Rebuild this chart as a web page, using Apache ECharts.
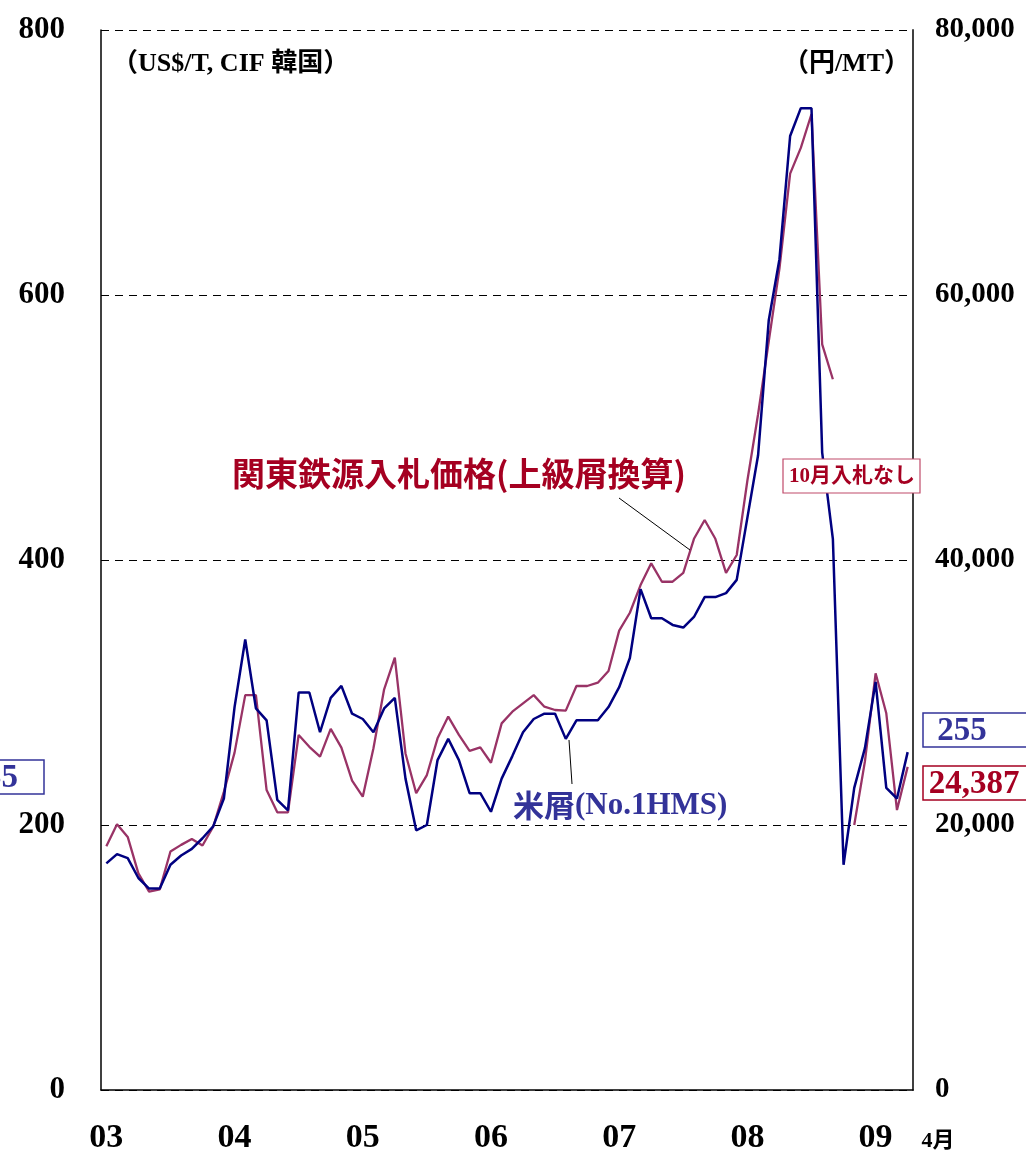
<!DOCTYPE html>
<html>
<head>
<meta charset="utf-8">
<script src="https://cdn.jsdelivr.net/npm/echarts@6/dist/echarts.min.js"></script>
<style>
  html, body { margin: 0; padding: 0; background: #fff; }
  #chart { width: 1026px; height: 1157px; }
</style>
</head>
<body>
<div id="chart"></div>
<script>
// monthly, Jan 2003 .. Apr 2009
const months = []
for (let y = 2003; y <= 2009; y++) {
  for (let m = 1; m <= 12; m++) {
    if (y === 2009 && m > 4) break
    months.push(y + '-' + (m < 10 ? '0' + m : m))
  }
}
const yearLabels = ['03', '04', '05', '06', '07', '08', '09']

// 米屑 No.1HMS, US$/T CIF 韓国
const usScrap = [
  171, 178, 175, 160, 152, 152, 170, 177, 182, 190, 199, 220,
  289, 340, 288, 279, 219, 211, 300, 300, 270, 296, 305, 284,
  280, 270, 288, 296, 235, 196, 200, 249, 265, 249, 224, 224,
  210, 235, 252, 270, 280, 284, 284, 265, 279, 279, 279, 289,
  304, 326, 378, 356, 356, 351, 349, 357, 372, 372, 375, 385,
  432, 479, 581, 627, 720, 741, 741, 481, 416, 170, 228, 258,
  308, 228, 220, 255
]

// 関東鉄源入札価格 (上級屑換算), 円/MT  (2008/10 no tender)
const kantoTender = [
  18400, 20050, 19100, 16350, 14970, 15140, 18000, 18500, 18950, 18450, 19870, 22500,
  25460, 29800, 29800, 22640, 20960, 20960, 26800, 25900, 25160, 27250, 25840, 23350,
  22140, 25790, 30240, 32630, 25400, 22400, 23770, 26540, 28180, 26800, 25600, 25860,
  24700, 27670, 28550, 29180, 29800, 28930, 28680, 28630, 30490, 30490, 30740, 31620,
  34670, 36020, 38110, 39750, 38360, 38360, 39030, 41600, 43020, 41600, 39030, 40380,
  46000, 51000, 56500, 62000, 69160, 71100, 73660, 56280, 53640, null, 20000, 24800,
  31450, 28430, 21130, 24387
]

const SERIF = '"Liberation Serif", "Noto Sans CJK JP", serif'
const GOTHIC = '"Noto Sans CJK JP", sans-serif'
const BLUE_TXT = '#333399'
const RED_TXT = '#a50021'

const chart = echarts.init(document.getElementById('chart'))

let option = {
  animation: false,
  backgroundColor: '#fff',
  grid: { left: 101, top: 30, width: 812, height: 1060 },
  xAxis: {
    type: 'category',
    data: months,
    boundaryGap: true,
    axisLine: { lineStyle: { color: '#000', width: 1.5 } },
    axisTick: { show: false },
    axisLabel: {
      interval: 0,
      margin: 31,
      fontFamily: SERIF,
      fontWeight: 'bold',
      fontSize: 34,
      color: '#000',
      formatter: (v, i) => (i % 12 === 0 ? yearLabels[i / 12] : '')
    },
    splitLine: { show: false }
  },
  yAxis: [
    {
      type: 'value',
      min: 0,
      max: 800,
      interval: 200,
      axisLine: { show: true, lineStyle: { color: '#000', width: 1.5 } },
      axisTick: { show: false },
      axisLabel: {
        margin: 36,
        fontFamily: SERIF,
        fontWeight: 'bold',
        fontSize: 31,
        color: '#000'
      },
      splitLine: { lineStyle: { color: '#000', type: [8, 6], width: 1 } }
    },
    {
      type: 'value',
      min: 0,
      max: 80000,
      interval: 20000,
      axisLine: { show: true, lineStyle: { color: '#404040', width: 2 } },
      axisTick: { show: false },
      axisLabel: {
        margin: 22,
        fontFamily: SERIF,
        fontWeight: 'bold',
        fontSize: 29,
        color: '#000',
        formatter: v => v.toLocaleString('en-US')
      },
      splitLine: { show: false }
    }
  ],
  series: [
    {
      name: '米屑(No.1HMS)',
      type: 'line',
      data: usScrap,
      symbol: 'none',
      lineStyle: { color: '#000080', width: 2.5 },
      z: 3
    },
    {
      name: '関東鉄源入札価格(上級屑換算)',
      type: 'line',
      yAxisIndex: 1,
      data: kantoTender,
      connectNulls: false,
      symbol: 'none',
      lineStyle: { color: '#993366', width: 2.3 },
      z: 2
    }
  ],
  graphic: [
    // units
    {
      type: 'text', x: 112, y: 64, z: 10,
      style: {
        text: '（US$/T, CIF 韓国）', font: 'bold 26px ' + SERIF, fill: '#000',
        align: 'left', verticalAlign: 'middle'
      }
    },
    {
      type: 'text', x: 910, y: 64, z: 10,
      style: {
        text: '（円/MT）', font: 'bold 26px ' + SERIF, fill: '#000',
        align: 'right', verticalAlign: 'middle'
      }
    },
    // series annotations
    {
      type: 'text', x: 232, y: 473, z: 10,
      style: {
        text: '関東鉄源入札価格(上級屑換算)', font: 'bold 33px ' + GOTHIC, fill: RED_TXT,
        align: 'left', verticalAlign: 'middle'
      }
    },
    {
      type: 'line', z: 10,
      shape: { x1: 619, y1: 498, x2: 690, y2: 550 },
      style: { stroke: '#000', lineWidth: 1 }
    },
    {
      type: 'text', left: 513, top: 790, z: 10,
      style: {
        text: '{a|米屑}{b|(No.1HMS)}',
        rich: {
          a: { fontFamily: GOTHIC, fontWeight: 'bold', fontSize: 31, fill: BLUE_TXT, color: BLUE_TXT },
          b: { fontFamily: SERIF, fontWeight: 'bold', fontSize: 31, fill: BLUE_TXT, color: BLUE_TXT }
        }
      }
    },
    {
      type: 'line', z: 10,
      shape: { x1: 569, y1: 740, x2: 572, y2: 784 },
      style: { stroke: '#000', lineWidth: 1 }
    },
    // 10月入札なし
    {
      type: 'rect', z: 10,
      shape: { x: 783, y: 459, width: 137, height: 34 },
      style: { fill: '#fff', stroke: '#c04a6a', lineWidth: 1.2 }
    },
    {
      type: 'text', x: 852, y: 477, z: 11,
      style: {
        text: '10月入札なし', font: 'bold 21px ' + SERIF, fill: RED_TXT,
        align: 'center', verticalAlign: 'middle'
      }
    },
    // latest values
    {
      type: 'rect', z: 10,
      shape: { x: 923, y: 713, width: 130, height: 34 },
      style: { fill: '#fff', stroke: BLUE_TXT, lineWidth: 1.5 }
    },
    {
      type: 'text', x: 962, y: 731, z: 11,
      style: {
        text: '255', font: 'bold 33px ' + SERIF, fill: BLUE_TXT,
        align: 'center', verticalAlign: 'middle'
      }
    },
    {
      type: 'rect', z: 10,
      shape: { x: 923, y: 766, width: 130, height: 34 },
      style: { fill: '#fff', stroke: RED_TXT, lineWidth: 1.5 }
    },
    {
      type: 'text', x: 974, y: 784, z: 11,
      style: {
        text: '24,387', font: 'bold 33px ' + SERIF, fill: RED_TXT,
        align: 'center', verticalAlign: 'middle'
      }
    },
    {
      type: 'rect', z: 10,
      shape: { x: -90, y: 760, width: 134, height: 34 },
      style: { fill: '#fff', stroke: BLUE_TXT, lineWidth: 1.5 }
    },
    {
      type: 'text', x: 18, y: 778, z: 11,
      style: {
        text: '255', font: 'bold 33px ' + SERIF, fill: BLUE_TXT,
        align: 'right', verticalAlign: 'middle'
      }
    },
    // 4月
    {
      type: 'text', x: 938, y: 1141, z: 10,
      style: {
        text: '4月', font: 'bold 22px ' + SERIF, fill: '#000',
        align: 'center', verticalAlign: 'middle'
      }
    }
  ]
}

chart.setOption(option)
</script>
</body>
</html>
